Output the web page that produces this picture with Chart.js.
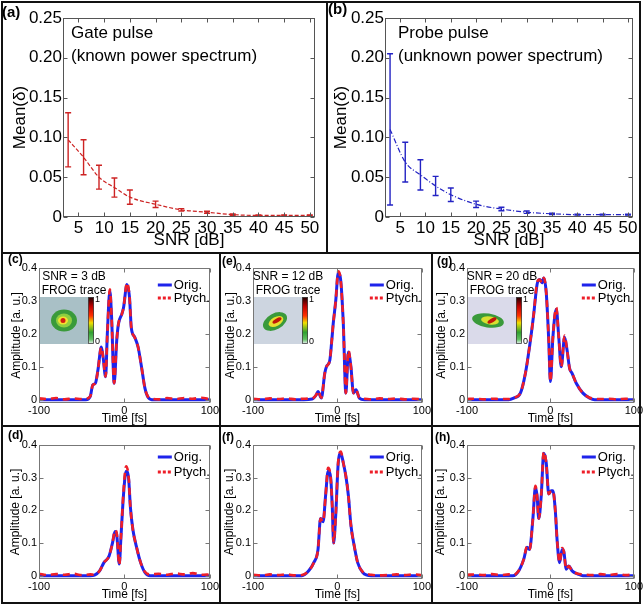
<!DOCTYPE html>
<html>
<head>
<meta charset="utf-8">
<script src="https://cdn.jsdelivr.net/npm/chart.js@4.4.0/dist/chart.umd.min.js"></script>
<style>
body { margin: 0; background: #fff; }
#fig { position: relative; width: 644px; height: 605px; overflow: hidden; }
#fig canvas { position: absolute; }
.ln { position: absolute; background: #111; }
</style>
</head>
<body>
<div id="fig">
  <canvas id="pa" width="327" height="253" style="left:0;top:0"></canvas>
  <canvas id="pb" width="317" height="253" style="left:327px;top:0"></canvas>
  <canvas id="pc" width="220" height="173" style="left:0;top:253px"></canvas>
  <canvas id="pe" width="212" height="173" style="left:220px;top:253px"></canvas>
  <canvas id="pg" width="212" height="173" style="left:432px;top:253px"></canvas>
  <canvas id="pd" width="220" height="179" style="left:0;top:426px"></canvas>
  <canvas id="pf" width="212" height="179" style="left:220px;top:426px"></canvas>
  <canvas id="ph" width="212" height="179" style="left:432px;top:426px"></canvas>

  <div class="ln" style="left:1px;top:1px;width:640px;height:2px"></div>
  <div class="ln" style="left:1px;top:1px;width:2px;height:603px"></div>
  <div class="ln" style="left:639px;top:1px;width:2px;height:603px"></div>
  <div class="ln" style="left:1px;top:602px;width:640px;height:2px"></div>
  <div class="ln" style="left:1px;top:252px;width:640px;height:2px"></div>
  <div class="ln" style="left:1px;top:425px;width:640px;height:2px"></div>
  <div class="ln" style="left:326px;top:1px;width:2px;height:252px"></div>
  <div class="ln" style="left:219px;top:253px;width:2px;height:350px"></div>
  <div class="ln" style="left:431px;top:253px;width:2px;height:350px"></div>
</div>
<script>
// ---- data ----
const snrDb = [3, 6, 9, 12, 15, 20, 25, 30, 35, 40, 45, 50];
const snrTicks = [5, 10, 15, 20, 25, 30, 35, 40, 45, 50];
const deltaTicks = [0, 0.05, 0.1, 0.15, 0.2, 0.25];
const gateMean = [0.097, 0.075, 0.050, 0.037, 0.025, 0.016, 0.009, 0.006, 0.003, 0.002, 0.002, 0.002];
const gateErr = [0.034, 0.022, 0.015, 0.012, 0.009, 0.004, 0.0015, 0.0012, 0.0008, 0.0006, 0.0006, 0.0006];
const probeMean = [0.110, 0.069, 0.053, 0.039, 0.028, 0.016, 0.010, 0.006, 0.004, 0.003, 0.003, 0.003];
const probeErr = [0.095, 0.025, 0.019, 0.012, 0.0085, 0.004, 0.0022, 0.0015, 0.0008, 0.0006, 0.0006, 0.0006];

const timeTicks = [-100, 0, 100];
const ampTicks = [0, 0.1, 0.2, 0.3, 0.4];

// (c) SNR = 3 dB
const cTime = [-100, -90, -80, -70, -60, -50, -45, -40, -37, -34, -31, -27, -25, -22, -20, -17, -15, -12, -9, -7, -3, -1, 3, 6, 8, 12, 16, 20, 24, 27, 32, 40, 50, 60, 70, 80, 90, 100];
const cOrig = [0, 0, 0, 0, 0, 0, 0, 0.01, 0.045, 0.05, 0.09, 0.16, 0.13, 0.07, 0.2, 0.33, 0.25, 0.05, 0.18, 0.23, 0.26, 0.28, 0.35, 0.31, 0.22, 0.19, 0.16, 0.1, 0.035, 0.01, 0, 0, 0, 0, 0, 0, 0, 0];
const cPtych = [0.004, 0.002, 0.005, 0.001, 0.004, 0.002, 0.003, 0.01, 0.045, 0.05, 0.09, 0.16, 0.13, 0.07, 0.2, 0.335, 0.25, 0.05, 0.18, 0.23, 0.26, 0.28, 0.355, 0.31, 0.22, 0.19, 0.16, 0.1, 0.035, 0.012, 0.004, 0.001, 0.005, 0.002, 0.005, 0.003, 0.006, 0.002];

// (e) SNR = 12 dB
const eTime = [-100, -90, -80, -70, -60, -50, -40, -30, -25, -23, -19, -15, -13, -9, -7, -5, -2, 1, 4, 7, 10, 13, 16, 19, 22, 26, 32, 40, 50, 60, 70, 80, 90, 100];
const eOrig = [0, 0, 0, 0, 0, 0, 0, 0.002, 0.015, 0.025, 0.005, 0.08, 0.1, 0.12, 0.17, 0.23, 0.3, 0.385, 0.36, 0.23, 0.02, 0.145, 0.1, 0.02, 0.03, 0.005, 0, 0, 0, 0, 0, 0, 0, 0];
const ePtych = [0.003, 0.001, 0.004, 0.002, 0.004, 0.001, 0.003, 0.004, 0.015, 0.027, 0.006, 0.08, 0.1, 0.12, 0.17, 0.23, 0.3, 0.39, 0.36, 0.23, 0.02, 0.15, 0.1, 0.02, 0.03, 0.006, 0.003, 0.001, 0.004, 0.002, 0.004, 0.001, 0.003, 0.001];

// (g) SNR = 20 dB
const gTime = [-100, -90, -80, -70, -60, -50, -44, -36, -30, -24, -20, -16, -13, -10, -8, -5, -2, 0, 3, 7, 10, 13, 17, 20, 23, 26, 31, 39, 47, 53, 60, 70, 80, 90, 100];
const gOrig = [0, 0, 0, 0, 0, 0, 0.005, 0.02, 0.08, 0.18, 0.26, 0.35, 0.365, 0.355, 0.37, 0.325, 0.18, 0.055, 0.19, 0.275, 0.19, 0.1, 0.19, 0.15, 0.095, 0.08, 0.05, 0.02, 0.005, 0, 0, 0, 0, 0, 0];
const gPtych = [0.002, 0.003, 0.001, 0.003, 0.002, 0.002, 0.006, 0.02, 0.08, 0.18, 0.26, 0.355, 0.365, 0.355, 0.37, 0.325, 0.18, 0.055, 0.19, 0.28, 0.19, 0.1, 0.195, 0.15, 0.095, 0.08, 0.05, 0.02, 0.006, 0.003, 0.002, 0.003, 0.001, 0.003, 0.002];

// (d)
const dTime = [-100, -90, -80, -70, -60, -50, -40, -35, -29, -24, -18, -14, -11, -9, -6, -4, -1, 2, 5, 7, 10, 14, 19, 24, 30, 40, 50, 60, 70, 80, 90, 100];
const dOrig = [0, 0, 0, 0, 0, 0, 0, 0.002, 0.015, 0.04, 0.06, 0.1, 0.135, 0.125, 0.036, 0.12, 0.25, 0.32, 0.295, 0.21, 0.14, 0.09, 0.04, 0.01, 0, 0, 0, 0, 0, 0, 0, 0];
const dPtych = [0.006, 0.002, 0.005, 0.003, 0.006, 0.002, 0.004, 0.003, 0.015, 0.04, 0.06, 0.1, 0.14, 0.13, 0.033, 0.12, 0.26, 0.335, 0.3, 0.21, 0.14, 0.09, 0.04, 0.012, 0.004, 0.006, 0.003, 0.007, 0.004, 0.008, 0.003, 0.004];

// (f)
const fTime = [-100, -90, -80, -70, -60, -50, -42, -34, -28, -23, -20, -17, -14, -11, -8, -6, -4.5, -2, 1, 4, 7, 10, 13, 16, 20, 24, 30, 40, 50, 60, 70, 80, 90, 100];
const fOrig = [0, 0, 0, 0, 0, 0, 0, 0.015, 0.04, 0.08, 0.175, 0.165, 0.245, 0.32, 0.3, 0.205, 0.1, 0.185, 0.345, 0.375, 0.345, 0.305, 0.245, 0.155, 0.09, 0.04, 0.01, 0, 0, 0, 0, 0, 0, 0];
const fPtych = [0.003, 0.001, 0.004, 0.002, 0.004, 0.001, 0.002, 0.015, 0.04, 0.08, 0.175, 0.165, 0.245, 0.33, 0.3, 0.205, 0.1, 0.185, 0.35, 0.38, 0.345, 0.305, 0.245, 0.155, 0.09, 0.04, 0.012, 0.003, 0.001, 0.002, 0.004, 0.002, 0.004, 0.002];

// (h)
const hTime = [-100, -90, -80, -70, -60, -50, -45, -38, -32, -28, -25, -21, -18, -16, -14, -11, -8, -5, -2, 1, 3, 6, 8, 11, 14, 16, 19, 22, 26, 33, 39, 50, 60, 70, 80, 90, 100];
const hOrig = [0, 0, 0, 0, 0, 0, 0, 0.015, 0.05, 0.087, 0.08, 0.175, 0.27, 0.245, 0.175, 0.245, 0.375, 0.345, 0.25, 0.26, 0.26, 0.195, 0.11, 0.04, 0.08, 0.075, 0.02, 0.03, 0.015, 0.005, 0, 0, 0, 0, 0, 0, 0];
const hPtych = [0.003, 0.004, 0.002, 0.005, 0.002, 0.004, 0.002, 0.015, 0.05, 0.09, 0.08, 0.175, 0.275, 0.245, 0.175, 0.245, 0.38, 0.345, 0.25, 0.26, 0.26, 0.195, 0.11, 0.04, 0.085, 0.075, 0.02, 0.03, 0.015, 0.006, 0.004, 0.002, 0.005, 0.003, 0.005, 0.002, 0.004];

const FONT = '"Liberation Sans", Arial, sans-serif';
const BLUE = 'rgb(30,35,235)';
const RED = 'rgb(238,30,40)';

function xy(xs, ys) {
    return xs.map((v, i) => ({ x: v, y: ys[i] }));
}
function fixedTicks(vals) {
    return s => { s.ticks = vals.map(v => ({ value: v })); };
}

// matlab-ish box, inward ticks, labels, legend, inset, error bars
const decor = {
    id: 'decor',
    afterDatasetsDraw(chart, args, o) {
        if (!o.err) return;
        const { ctx, scales: { x, y } } = chart;
        const pts = chart.data.datasets[0].data;
        ctx.save();
        ctx.strokeStyle = o.errColor;
        ctx.lineWidth = 1.4;
        ctx.beginPath();
        pts.forEach((p, i) => {
            const px = x.getPixelForValue(p.x);
            const y1 = y.getPixelForValue(p.y + o.err[i]);
            const y2 = y.getPixelForValue(Math.max(0, p.y - o.err[i]));
            ctx.moveTo(px, y1); ctx.lineTo(px, y2);
            ctx.moveTo(px - 3, y1); ctx.lineTo(px + 3, y1);
            ctx.moveTo(px - 3, y2); ctx.lineTo(px + 3, y2);
        });
        ctx.stroke();
        ctx.restore();
    },
    afterDraw(chart, args, o) {
        const { ctx, chartArea: a, scales: { x, y } } = chart;
        ctx.save();
        const L = Math.round(a.left) + 0.5, R = Math.round(a.right) - 0.5;
        const T = Math.round(a.top) + 0.5, B = Math.round(a.bottom) - 0.5;
        ctx.strokeStyle = o.box;
        ctx.lineWidth = 1;
        ctx.strokeRect(L, T, R - L, B - T);
        ctx.beginPath();
        x.ticks.forEach(t => {
            const px = Math.round(x.getPixelForValue(t.value)) + 0.5;
            ctx.moveTo(px, B); ctx.lineTo(px, B - 4);
            ctx.moveTo(px, T); ctx.lineTo(px, T + 4);
        });
        y.ticks.forEach(t => {
            const py = Math.round(y.getPixelForValue(t.value)) + 0.5;
            ctx.moveTo(L, py); ctx.lineTo(L + 4, py);
            ctx.moveTo(R, py); ctx.lineTo(R - 4, py);
        });
        ctx.stroke();

        ctx.fillStyle = '#000';
        ctx.textAlign = 'left';
        ctx.textBaseline = 'top';
        ctx.font = 'bold ' + o.tagSize + 'px ' + FONT;
        ctx.fillText(o.tag, o.tagX, o.tagY);

        if (o.note) {
            ctx.font = '17px ' + FONT;
            ctx.textBaseline = 'alphabetic';
            o.note.forEach((s, i) => ctx.fillText(s, a.left + o.noteX, a.top + 20 + i * 23));
        }

        if (o.legend) {
            const ys = o.legend;
            ctx.lineWidth = 3;
            ctx.strokeStyle = BLUE;
            ctx.beginPath(); ctx.moveTo(a.right - 52, a.top + ys[0]); ctx.lineTo(a.right - 38, a.top + ys[0]); ctx.stroke();
            ctx.strokeStyle = RED;
            ctx.setLineDash([3, 2]);
            ctx.beginPath(); ctx.moveTo(a.right - 52, a.top + ys[1]); ctx.lineTo(a.right - 38, a.top + ys[1]); ctx.stroke();
            ctx.setLineDash([]);
            ctx.font = '13px ' + FONT;
            ctx.textBaseline = 'middle';
            ctx.fillText('Orig.', a.right - 36, a.top + ys[0]);
            ctx.fillText('Ptych.', a.right - 36, a.top + ys[1]);
        }

        if (o.inset) drawInset(ctx, a, o.inset);
        ctx.restore();
    }
};

function drawInset(ctx, a, ins) {
    const ix = a.left + 1, iy = a.top + 29, iw = 48, ih = 47;
    ctx.fillStyle = ins.bg;
    ctx.fillRect(ix, iy, iw, ih);
    const cx = ix + iw / 2, cy = iy + ih / 2;
    ins.blobs.forEach(b => {
        ctx.save();
        ctx.translate(cx + b[0], cy + b[1]);
        ctx.rotate(b[4]);
        ctx.beginPath();
        ctx.ellipse(0, 0, b[2], b[3], 0, 0, Math.PI * 2);
        ctx.fillStyle = b[5];
        ctx.fill();
        ctx.restore();
    });
    const g = ctx.createLinearGradient(0, iy, 0, iy + ih);
    g.addColorStop(0, '#1a0000');
    g.addColorStop(0.2, '#c00000');
    g.addColorStop(0.4, '#ff3000');
    g.addColorStop(0.55, '#f0e000');
    g.addColorStop(0.75, '#30a030');
    g.addColorStop(0.9, '#60c060');
    g.addColorStop(1, '#f4f4ff');
    ctx.fillStyle = g;
    ctx.fillRect(ix + iw, iy, 6, ih);
    ctx.strokeStyle = '#444';
    ctx.lineWidth = 0.8;
    ctx.strokeRect(ix + iw + 0.5, iy + 0.5, 5, ih - 1);
    ctx.fillStyle = '#000';
    ctx.font = '9px ' + FONT;
    ctx.textAlign = 'left';
    ctx.textBaseline = 'middle';
    ctx.fillText('1', ix + iw + 7, iy + 3);
    ctx.fillText('0', ix + iw + 7, iy + ih - 2);
    ctx.font = '12px ' + FONT;
    ctx.textAlign = 'center';
    ctx.fillText(ins.snr, a.left + 35, a.top + 9);
    ctx.fillText('FROG trace', a.left + 35, a.top + 23);
}

function snrChart(id, mean, err, color, dash, g) {
    return new Chart(document.getElementById(id), {
        type: 'line',
        data: {
            datasets: [{
                data: xy(snrDb, mean),
                borderColor: color,
                borderWidth: 1.2,
                borderDash: dash,
                pointRadius: 0,
                cubicInterpolationMode: 'monotone',
                fill: false
            }]
        },
        options: {
            responsive: false,
            animation: false,
            layout: { padding: { top: 18, right: g.right, left: 0, bottom: 0 } },
            plugins: {
                legend: { display: false },
                tooltip: { enabled: false },
                decor: {
                    box: '#555', err: err, errColor: color,
                    tag: g.tag, tagX: g.tagX, tagY: g.tagY, tagSize: 15,
                    note: g.note, noteX: g.noteX
                }
            },
            scales: {
                x: {
                    type: 'linear', min: 2, max: 51,
                    afterBuildTicks: fixedTicks(snrTicks),
                    afterFit: s => { s.height = 36; },
                    grid: { display: false, drawTicks: false },
                    border: { display: false },
                    ticks: { font: { family: FONT, size: 17 }, color: '#000', padding: 1, maxRotation: 0, autoSkip: false },
                    title: { display: true, text: 'SNR [dB]', font: { family: FONT, size: 17 }, color: '#000', padding: { top: 0, bottom: 2 } }
                },
                y: {
                    min: 0, max: 0.25,
                    afterBuildTicks: fixedTicks(deltaTicks),
                    afterFit: s => { s.width = g.yW; },
                    grid: { display: false, drawTicks: false },
                    border: { display: false },
                    ticks: { font: { family: FONT, size: 17 }, color: '#000', padding: 1 },
                    title: { display: true, text: 'Mean(δ)', font: { family: FONT, size: 17 }, color: '#000', padding: { top: g.titlePad, bottom: 0 } }
                }
            }
        },
        plugins: [decor]
    });
}

function pulseChart(id, time, orig, ptych, g) {
    return new Chart(document.getElementById(id), {
        type: 'line',
        data: {
            datasets: [
                {
                    label: 'Orig.', data: xy(time, orig), borderColor: BLUE, borderWidth: 3,
                    pointRadius: 0, cubicInterpolationMode: 'monotone', fill: false, order: 2
                },
                {
                    label: 'Ptych.', data: xy(time, ptych), borderColor: RED, borderWidth: 2.6,
                    borderDash: [7, 5], pointRadius: 0, cubicInterpolationMode: 'monotone', fill: false, order: 1
                }
            ]
        },
        options: {
            responsive: false,
            animation: false,
            layout: { padding: { top: g.top, right: g.right, left: 0, bottom: 0 } },
            plugins: {
                legend: { display: false },
                tooltip: { enabled: false },
                decor: {
                    box: '#777', tag: g.tag, tagX: g.tagX, tagY: g.tagY, tagSize: 12,
                    legend: g.legend, inset: g.inset
                }
            },
            scales: {
                x: {
                    type: 'linear', min: -100, max: 100,
                    afterBuildTicks: fixedTicks(timeTicks),
                    afterFit: s => { s.height = g.xH; },
                    grid: { display: false, drawTicks: false },
                    border: { display: false },
                    ticks: { font: { family: FONT, size: 11 }, color: '#000', padding: 1, maxRotation: 0, autoSkip: false },
                    title: { display: true, text: 'Time [fs]', font: { family: FONT, size: 12 }, color: '#000', padding: { top: 0, bottom: g.xPad } }
                },
                y: {
                    min: -0.01, max: 0.4,
                    afterBuildTicks: fixedTicks(ampTicks),
                    afterFit: s => { s.width = g.yW; },
                    grid: { display: false, drawTicks: false },
                    border: { display: false },
                    ticks: { font: { family: FONT, size: 11 }, color: '#000', padding: 2 },
                    title: { display: true, text: 'Amplitude [a. u.]', font: { family: FONT, size: 12 }, color: '#000', padding: { top: g.titlePad, bottom: 0 } }
                }
            }
        },
        plugins: [decor]
    });
}

snrChart('pa', gateMean, gateErr, 'rgb(205,35,35)', [4, 2], {
    right: 12, yW: 63, titlePad: 10, tag: '(a)', tagX: 2, tagY: 5,
    note: ['Gate pulse', '(known power spectrum)'], noteX: 8
});
snrChart('pb', probeMean, probeErr, 'rgb(35,35,195)', [5, 2, 1, 2], {
    right: 11, yW: 58, titlePad: 4, tag: '(b)', tagX: 1, tagY: 2,
    note: ['Probe pulse', '(unknown power spectrum)'], noteX: 13
});

const midLegend = [17, 30];
const lowLegend = [12, 27];

pulseChart('pc', cTime, cOrig, cPtych, {
    top: 15, right: 9, yW: 39, xH: 23, xPad: 0, titlePad: 9, tag: '(c)', tagX: 8, tagY: 1, legend: midLegend,
    inset: {
        snr: 'SNR = 3 dB', bg: '#a9c0c6',
        blobs: [[0, 0, 13, 11, 0, '#3a9a3a'], [0, 0, 8, 7, 0, '#8fcf3f'], [-1, 0, 5, 4, 0, '#f2e030'], [-1, 0, 2.5, 2.5, 0, '#d02010']]
    }
});
pulseChart('pe', eTime, eOrig, ePtych, {
    top: 15, right: 9, yW: 33, xH: 23, xPad: 0, titlePad: 3, tag: '(e)', tagX: 2, tagY: 3, legend: midLegend,
    inset: {
        snr: 'SNR = 12 dB', bg: '#cdd5e0',
        blobs: [[-3, 1, 13, 8, -0.5, '#3a9a3a'], [-2, 1, 8, 4.5, -0.5, '#e8e030'], [-1, 0, 5, 2, -0.5, '#c01808']]
    }
});
pulseChart('pg', gTime, gOrig, gPtych, {
    top: 15, right: 8, yW: 35, xH: 23, xPad: 0, titlePad: 2, tag: '(g)', tagX: 5, tagY: 3, legend: midLegend,
    inset: {
        snr: 'SNR = 20 dB', bg: '#dadaea',
        blobs: [[-4, 0, 16, 7, 0.15, '#3a9a3a'], [-2, 0, 9, 4, 0.15, '#d8e030'], [0, 0, 5, 2, -0.5, '#c01808']]
    }
});
pulseChart('pd', dTime, dOrig, dPtych, {
    top: 19, right: 9, yW: 39, xH: 26, xPad: 3, titlePad: 8, tag: '(d)', tagX: 8, tagY: 4, legend: lowLegend
});
pulseChart('pf', fTime, fOrig, fPtych, {
    top: 19, right: 9, yW: 33, xH: 26, xPad: 3, titlePad: 2, tag: '(f)', tagX: 2, tagY: 6, legend: lowLegend
});
pulseChart('ph', hTime, hOrig, hPtych, {
    top: 19, right: 8, yW: 35, xH: 26, xPad: 3, titlePad: 1, tag: '(h)', tagX: 3, tagY: 6, legend: lowLegend
});
</script>
</body>
</html>
